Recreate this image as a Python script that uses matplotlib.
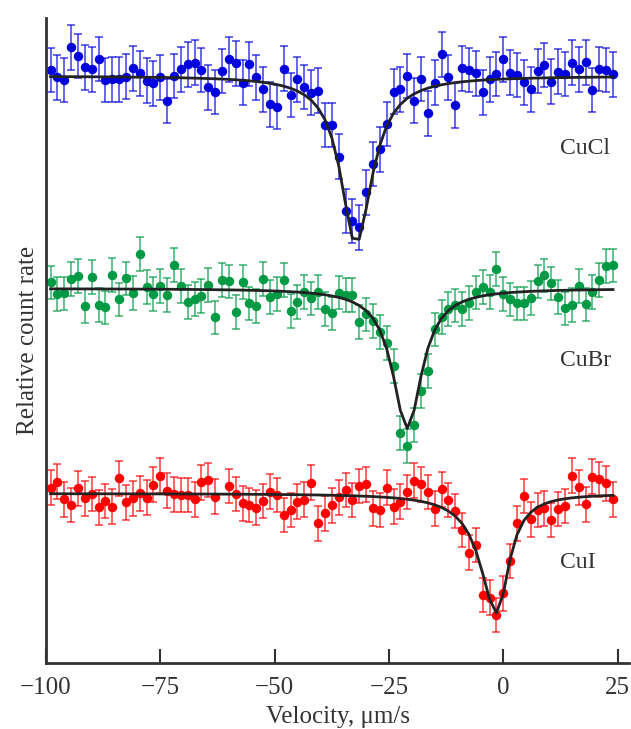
import numpy as np
import matplotlib.pyplot as plt

# скорость, мкм/с (шаг 1.5)
velocity = np.arange(83) * 1.5 - 99.0

# относительная скорость счёта (произвольные единицы, спектры смещены по вертикали)
cucl = [593, 585.7, 583, 615.7, 607, 595.7, 593.7, 604, 583, 583.7,
        583.7, 586.3, 594.7, 589.7, 582.3, 579.7, 585.7, 562, 587, 593.7,
        598.7, 600.3, 593, 575.7, 571, 592, 603.7, 599.7, 580.3, 599,
        585.7, 573.7, 558.7, 556, 594.3, 568, 583.7, 576, 570.3, 572.3,
        538, 538, 506.3, 452, 442, 435.7, 470.7, 499, 513.7, 539,
        571.3, 573.7, 587, 562.3, 584, 549.7, 580.3, 608.7, 585.7, 557.7,
        594.7, 593, 589.7, 570.7, 583.7, 589, 603.7, 590.3, 588, 580.7,
        573.7, 592, 598, 581.3, 591.3, 589, 600.3, 593.7, 600.7, 573,
        594, 593, 588.7]

cubr = [380.7, 369, 369.7, 384, 387, 357, 386.3, 358, 355.7, 388.3,
        363.7, 384.7, 370.3, 409, 376.3, 369, 377, 368, 398, 377,
        361.3, 364.3, 367, 378, 345.7, 383, 381.7, 351.3, 381.3, 359.7,
        357, 384, 366.3, 369, 383, 352, 361, 371, 364.7, 371,
        353.8, 349.7, 370.5, 368, 368, 341.3, 348.7, 342.3, 331.3, 320.3,
        297, 230.3, 217, 238, 272.3, 292, 333.7, 346.3, 354, 357.7,
        354.3, 360.3, 370.7, 376.3, 371.3, 394.3, 369, 363.7, 359.7, 359.7,
        365.3, 381.7, 387.7, 379.7, 366.3, 354.7, 358, 377, 358.7, 371.3,
        383, 397, 397.7]

cui = [175.3, 181.3, 163.7, 158, 174.7, 164.7, 169, 155.7, 162, 156.3,
       184.7, 160.7, 164.7, 169.7, 165.3, 178.3, 187.3, 172.3, 168.7, 168,
       168, 163.7, 180.7, 183, 166.3, np.nan, 177, 169, 159.7, 158,
       155.3, 162, 171.3, 168, 148, 153, 161.3, 163.5, 180.3, 139.7,
       149.7, 157.7, 165.7, 173, 163, 177, 178.7, 154.7, 153, 175.3,
       156.3, 161.3, 171, 182.3, 178.7, 171, 154.3, 173.7, 163, 152,
       133, 110.3, 118, 68, 65.3, 48, 69.7, 102, 139.7, 167,
       143.7, 153, 154.7, 143, 154, 157, 187.3, 175.7, 158.7, 186.3,
       183.7, 179.7, 163.7]

# погрешности
err_cucl, err_cubr, err_cui = 22.4, 16.8, 17.3

# параметры подгонки: фон, глубина, центр, полуширина слева и справа
fit_cucl = (587, 168, -32.25, 4.0, 4.4)
fit_cubr = (374.5, 140, -21.0, 3.9, 3.9)
fit_cui = (169.5, 119.5, -1.4, 4.4, 3.2)


def lorentz(v, base, depth, center, g_left, g_right):
    g = np.where(v < center, g_left, g_right)
    return base - depth * g ** 2 / ((v - center) ** 2 + g ** 2)


series = [
    ('CuCl', cucl, err_cucl, fit_cucl, '#0000dd', 515),
    ('CuBr', cubr, err_cubr, fit_cubr, '#009a44', 302),
    ('CuI', cui, err_cui, fit_cui, '#ff0000', 100),
]

plt.rcParams['font.family'] = ['Liberation Serif', 'DejaVu Serif']

fig = plt.figure(figsize=(6.31, 7.29), dpi=100)
ax = fig.add_axes([46 / 631, 66 / 729, 583 / 631, 645 / 729])

for name, vals, err, fit, color, label_y in series:
    ax.errorbar(velocity, vals, yerr=err, fmt='none', ecolor=color,
                elinewidth=1.3, capsize=2.6, capthick=1.3, alpha=0.65, zorder=1)
    ax.plot(velocity, vals, 'o', color=color, markersize=5.8, zorder=2)
    # кривая подгонки
    ax.plot(velocity, lorentz(velocity, *fit), color='#222222', lw=2, zorder=3)
    ax.text(12.4, label_y, name, fontsize=17, color='#333333', va='center', ha='left')

ax.set_xlim(-100, 27.5)
ax.set_ylim(0, 645)
ax.set_xticks([-100, -75, -50, -25, 0, 25])
ax.set_xticklabels(['\u2212100', '\u221275', '\u221250', '\u221225', '0', '25'])
ax.set_yticks([])
ax.tick_params(axis='x', direction='in', length=10, width=1.5, color='#333333',
               labelsize=18, labelcolor='#333333', pad=10)
for side in ['top', 'right']:
    ax.spines[side].set_visible(False)
for side in ['left', 'bottom']:
    ax.spines[side].set_linewidth(2)
    ax.spines[side].set_color('#333333')

ax.set_xlabel('Velocity, \u03bcm/s', fontsize=18, color='#333333', labelpad=5)
ax.set_ylabel('Relative count rate', fontsize=18, color='#333333', labelpad=5)

fig.savefig('out.png', dpi=100)
